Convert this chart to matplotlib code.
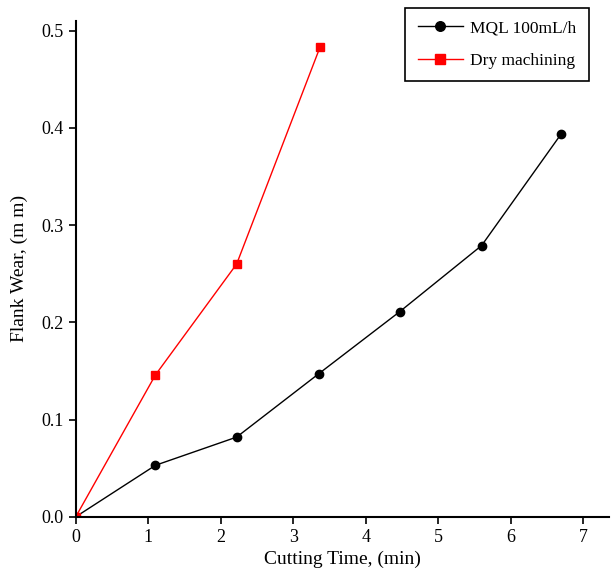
import matplotlib
matplotlib.use('Agg')
import matplotlib.pyplot as plt

# data
t_mql = [0, 1.1, 2.22, 3.35, 4.47, 5.6, 6.7]
wear_mql = [0, 0.053, 0.082, 0.147, 0.211, 0.279, 0.394]
t_dry = [0, 1.1, 2.22, 3.37]
wear_dry = [0, 0.146, 0.260, 0.483]

plt.rcParams['font.family'] = ['Liberation Serif', 'DejaVu Serif']

fig = plt.figure(figsize=(6.11, 5.82), dpi=100)
ax = fig.add_axes([0.124, 0.112, 0.873, 0.852])

ax.plot(t_mql, wear_mql, color='black', marker='o', markersize=6, linewidth=1, label='MQL 100mL/h')
ax.plot(t_dry, wear_dry, color='red', marker='s', markersize=6, linewidth=1, label='Dry machining')

ax.set_xlim(0, 7.36)
ax.set_ylim(0, 0.51)
ax.set_xticks(range(0, 8))
ax.set_yticks([0.0, 0.1, 0.2, 0.3, 0.4, 0.5])
ax.set_yticklabels(['0.0', '0.1', '0.2', '0.3', '0.4', '0.5'])
ax.tick_params(direction='out', length=5, width=1.2, labelsize=13, colors='black')

ax.spines['top'].set_visible(False)
ax.spines['right'].set_visible(False)
ax.spines['left'].set_linewidth(1.5)
ax.spines['bottom'].set_linewidth(1.5)

ax.set_xlabel('Cutting Time, (min)', fontsize=14, labelpad=4)
ax.set_ylabel('Flank Wear, (m m)', fontsize=14, labelpad=10)

leg = ax.legend(loc='upper right', bbox_to_anchor=(0.962, 1.026), fontsize=12.5, fancybox=False,
                edgecolor='black', framealpha=1, handlelength=2.6, handletextpad=0.45,
                borderpad=0.7, labelspacing=0.95, borderaxespad=0, markerscale=1.15)
leg.get_frame().set_linewidth(1.2)

fig.savefig('out.png', dpi=100)
